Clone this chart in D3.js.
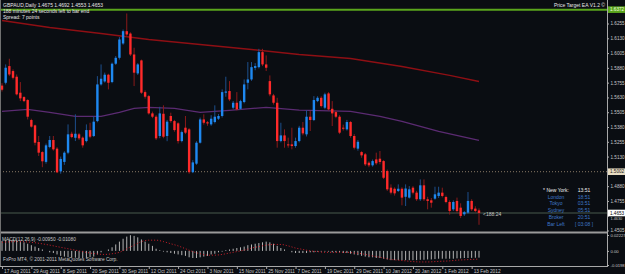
<!DOCTYPE html>
<html><head><meta charset="utf-8">
<script src="https://cdn.jsdelivr.net/npm/d3@7"></script>
<style>body{margin:0;background:#0a0d12;overflow:hidden}svg{display:block}text{font-family:"Liberation Sans",Arial,sans-serif}</style>
</head><body><svg id="c" width="625" height="274"></svg>
<script>
// ---- data ----
const openP=[1.5730,1.5754,1.5895,1.5853,1.5805,1.5670,1.5633,1.5608,1.5439,1.5394,1.5253,1.5168,1.5085,1.5211,1.5270,1.5197,1.5005,1.5085,1.5163,1.5323,1.5289,1.5318,1.5290,1.5261,1.5354,1.5304,1.5430,1.5740,1.5765,1.5822,1.5760,1.5915,1.5965,1.6086,1.6190,1.6170,1.5993,1.5833,1.5943,1.5675,1.5641,1.5495,1.5467,1.5304,1.5492,1.5304,1.5473,1.5430,1.5411,1.5261,1.5374,1.5360,1.4998,1.5070,1.5247,1.5444,1.5420,1.5402,1.5422,1.5450,1.5473,1.5670,1.5684,1.5543,1.5585,1.5534,1.5591,1.5754,1.5782,1.5880,1.5886,1.6013,1.5909,1.5768,1.5647,1.5585,1.5261,1.5309,1.5233,1.5233,1.5219,1.5261,1.5374,1.5318,1.5467,1.5439,1.5599,1.5627,1.5543,1.5664,1.5534,1.5506,1.5467,1.5374,1.5360,1.5422,1.5304,1.5197,1.5168,1.5149,1.5078,1.5056,1.5106,1.5112,1.5092,1.5008,1.4867,1.4858,1.4839,1.4858,1.4790,1.4783,1.4867,1.4825,1.4769,1.4887,1.4769,1.4760,1.4774,1.4797,1.4825,1.4788,1.4746,1.4684,1.4755,1.4698,1.4642,1.4656,1.4755,1.4690,1.4675];
const highP=[1.5750,1.5909,1.5957,1.5867,1.5824,1.5760,1.5640,1.5615,1.5450,1.5400,1.5304,1.5175,1.5240,1.5304,1.5304,1.5210,1.5130,1.5175,1.5402,1.5340,1.5487,1.5330,1.5300,1.5402,1.5416,1.5473,1.5810,1.5909,1.5840,1.5830,1.5925,1.5980,1.6140,1.6204,1.6340,1.6180,1.6050,1.5920,1.5950,1.5690,1.5650,1.5510,1.5480,1.5551,1.5563,1.5440,1.5501,1.5440,1.5420,1.5350,1.5473,1.5370,1.5100,1.5260,1.5460,1.5487,1.5430,1.5480,1.5563,1.5490,1.5698,1.5805,1.5768,1.5600,1.5675,1.5610,1.5782,1.5929,1.5929,1.5920,1.6041,1.6041,1.5985,1.5816,1.5660,1.5627,1.5416,1.5360,1.5290,1.5374,1.5290,1.5390,1.5422,1.5523,1.5515,1.5641,1.5640,1.5640,1.5670,1.5675,1.5599,1.5520,1.5480,1.5400,1.5440,1.5430,1.5320,1.5270,1.5175,1.5160,1.5090,1.5105,1.5163,1.5177,1.5100,1.5020,1.4895,1.4870,1.4895,1.4870,1.4895,1.4880,1.4880,1.4840,1.4937,1.4937,1.4790,1.4780,1.4875,1.4875,1.4867,1.4800,1.4760,1.4760,1.4783,1.4735,1.4670,1.4830,1.4769,1.4710,1.4692];
const lowP=[1.5680,1.5740,1.5810,1.5782,1.5647,1.5599,1.5590,1.5444,1.5375,1.5225,1.5135,1.5040,1.5070,1.5200,1.5180,1.4990,1.4985,1.5060,1.5150,1.5285,1.5261,1.5270,1.5205,1.5250,1.5285,1.5295,1.5420,1.5730,1.5755,1.5698,1.5750,1.5905,1.5950,1.6075,1.6150,1.5980,1.5726,1.5820,1.5660,1.5620,1.5485,1.5455,1.5270,1.5285,1.5285,1.5260,1.5416,1.5340,1.5240,1.5250,1.5320,1.4985,1.4990,1.5060,1.5240,1.5400,1.5390,1.5390,1.5410,1.5440,1.5460,1.5636,1.5599,1.5530,1.5520,1.5525,1.5580,1.5698,1.5770,1.5860,1.5875,1.5895,1.5853,1.5640,1.5570,1.5205,1.5250,1.5205,1.5205,1.5191,1.5205,1.5250,1.5310,1.5300,1.5346,1.5430,1.5590,1.5545,1.5530,1.5520,1.5388,1.5455,1.5320,1.5350,1.5350,1.5290,1.5190,1.5180,1.5120,1.5050,1.5040,1.5045,1.5060,1.5064,1.4940,1.4840,1.4810,1.4800,1.4830,1.4718,1.4712,1.4775,1.4810,1.4755,1.4755,1.4755,1.4684,1.4698,1.4765,1.4780,1.4785,1.4735,1.4640,1.4670,1.4655,1.4610,1.4628,1.4645,1.4670,1.4660,1.4553];
const closeP=[1.5695,1.5881,1.5824,1.5796,1.5656,1.5622,1.5599,1.5467,1.5383,1.5247,1.5163,1.5090,1.5225,1.5270,1.5191,1.4997,1.5110,1.5163,1.5318,1.5295,1.5323,1.5284,1.5225,1.5354,1.5298,1.5425,1.5740,1.5788,1.5822,1.5754,1.5915,1.5965,1.6120,1.6190,1.6162,1.5993,1.5839,1.5909,1.5670,1.5636,1.5495,1.5467,1.5284,1.5495,1.5298,1.5425,1.5430,1.5354,1.5261,1.5337,1.5332,1.4998,1.5081,1.5247,1.5444,1.5416,1.5410,1.5450,1.5467,1.5473,1.5675,1.5680,1.5613,1.5585,1.5529,1.5599,1.5740,1.5782,1.5886,1.5895,1.6013,1.5909,1.5881,1.5656,1.5585,1.5261,1.5309,1.5261,1.5228,1.5219,1.5261,1.5374,1.5326,1.5467,1.5439,1.5608,1.5627,1.5557,1.5656,1.5529,1.5495,1.5467,1.5332,1.5366,1.5422,1.5304,1.5205,1.5255,1.5140,1.5064,1.5056,1.5092,1.5073,1.5084,1.4951,1.4853,1.4825,1.4819,1.4858,1.4783,1.4860,1.4853,1.4825,1.4769,1.4887,1.4769,1.4755,1.4740,1.4811,1.4825,1.4797,1.4746,1.4670,1.4746,1.4670,1.4628,1.4660,1.4755,1.4684,1.4670,1.4653];
// MACD main (histogram) and signal, x 0.001
const macdHist=[14,15,16,16,15,14,12,10,8,6,4,2,0,-2,-3,-5,-7,-8,-9,-9,-9.5,-10,-10,-9.5,-9,-8,-5,-2,0,2,5,9,13,17,20,22,21,19,16,13,10,7,3,1,-1,-2,-3,-4,-5,-6,-7,-9,-10,-10,-9,-8,-7,-5,-4,-2,-1,1,2,3,4,5,6,8,9,10,11,12,13,12,10,7,4,2,0,-2,-3,-3,-3,-3,-2,-2,-1,-1,-1,-1,-2,-2,-2,-3,-3,-4,-5,-6,-7,-8,-9,-9,-10,-10,-11,-12,-13,-13,-13,-13,-13,-13,-13,-13,-12.5,-12.5,-12,-12,-11.5,-11,-11,-11,-11,-11,-10.5,-10.5,-10,-10,-9.8,-9.6,-9.5];
const signalIdx=[0,4,8,12,16,20,24,28,30,32,34,36,38,40,42,44,46,48,50,52,54,56,58,60,62,64,66,68,70,72,74,76,78,80,82,84,86,88,90,92,94,96,98,100,102,104,106,108,110,112,114,116,118,120,122,124,126,128,130];
const signalVal=[12,13,12,9,5,1,-3,-5,-4,-2,3,8,13,15,15,13,10,7,3,-1,-4,-6,-6,-5,-3,-1,1,4,6,8,9,9,7,4,2,0,-1,-2,-2,-2,-2,-3,-4,-6,-8,-10,-12,-13,-14,-15,-15.5,-15.5,-15,-14.5,-14,-13,-12.5,-12,-11.5];
// moving averages sampled at bar indices
const maRedIdx=[0,13,27,40,54,68,81,95,109,122,130];
const maRedVal=[1.6280,1.6221,1.6171,1.6120,1.6078,1.6035,1.5993,1.5959,1.5892,1.5816,1.5765];
const maPurIdx=[0,7,13,20,27,32,36,40,47,54,62,72,81,95,103,109,119,130];
const maPurVal=[1.5512,1.5529,1.5503,1.5470,1.5470,1.5503,1.5537,1.5546,1.5537,1.5503,1.5520,1.5546,1.5523,1.5512,1.5470,1.5427,1.5343,1.5267];
const priceTicks=[1.6255,1.6130,1.6005,1.5880,1.5755,1.5630,1.5505,1.5380,1.5255,1.5130,1.5005,1.4880,1.4755,1.4630,1.4505];
const dateIdx=[0,8,16,24,32,40,48,56,64,72,80,88,96,104,112,120,128];
const dateLabels=["17 Aug 2011","29 Aug 2011","8 Sep 2011","20 Sep 2011","30 Sep 2011","12 Oct 2011","24 Oct 2011","3 Nov 2011","15 Nov 2011","25 Nov 2011","7 Dec 2011","19 Dec 2011","29 Dec 2011","10 Jan 2012","20 Jan 2012","1 Feb 2012","13 Feb 2012"];
const targetPrice=1.6372, pivotPrice=1.5002, lastPrice=1.4653;
const macdTicks=[0.02227,0,-0.0198];
const macdTickLabels=["0.02227","0.00","-0.0198"];
const sessions=[["* New York:","13:51"],["London","18:51"],["Tokyo","03:51"],["Sydney","05:51"],["Broker","20:51"],["Bar Left","[ 03:08 ]"]];

// ---- drawing ----
const svg=d3.select('#c');
svg.append('rect').attr('width',625).attr('height',274).attr('fill','#0a0d12');
const x=d3.scaleLinear().domain([0,130]).range([2,479]);
const y=d3.scaleLinear().domain([1.4505,1.6255]).range([230.5,23.5]);
const ym=d3.scaleLinear().domain([-0.0198,0.02227]).range([265,235]);
const axisX=607;
const FS='4.6px';

// horizontal lines
svg.append('line').attr('x1',0).attr('x2',axisX).attr('y1',y(targetPrice)).attr('y2',y(targetPrice)).attr('stroke','#5aa51c').attr('stroke-width',2);
svg.append('line').attr('x1',0).attr('x2',axisX).attr('y1',y(pivotPrice)).attr('y2',y(pivotPrice)).attr('stroke','#8a7a66').attr('stroke-width',1).attr('stroke-dasharray','1,2');
svg.append('line').attr('x1',0).attr('x2',axisX).attr('y1',y(lastPrice)).attr('y2',y(lastPrice)).attr('stroke','#34403a').attr('stroke-width',1.5);

// moving averages
const maLine=(idx,val)=>d3.line().x((d,i)=>x(idx[i])).y(d=>y(d))(val);
svg.append('path').attr('d',maLine(maRedIdx,maRedVal)).attr('fill','none').attr('stroke','#8e0f14').attr('stroke-width',1.4);
svg.append('path').attr('d',maLine(maPurIdx,maPurVal)).attr('fill','none').attr('stroke','#5b2b72').attr('stroke-width',1.3);

// candles
const idx=d3.range(openP.length);
const g=svg.append('g');
g.selectAll('line.w').data(idx).join('line')
 .attr('x1',i=>x(i)).attr('x2',i=>x(i)).attr('y1',i=>y(highP[i])).attr('y2',i=>y(lowP[i]))
 .attr('stroke',i=>closeP[i]>=openP[i]?'#1d4f8c':'#8a1a1a').attr('stroke-width',1);
g.selectAll('rect.b').data(idx).join('rect')
 .attr('x',i=>x(i)-1.2).attr('width',2.4)
 .attr('y',i=>Math.min(y(openP[i]),y(closeP[i])))
 .attr('height',i=>Math.max(1,Math.abs(y(openP[i])-y(closeP[i]))))
 .attr('fill',i=>closeP[i]>=openP[i]?'#1e88f0':'#ff2a2a');

// panel separators / borders
svg.append('rect').attr('x',0).attr('y',231.5).attr('width',axisX).attr('height',2).attr('fill','#9a9a9a');
svg.append('line').attr('x1',0.5).attr('x2',0.5).attr('y1',0).attr('y2',266).attr('stroke','#707070');

// MACD panel
svg.append('g').selectAll('line').data(idx).join('line')
 .attr('x1',i=>x(i)).attr('x2',i=>x(i)).attr('y1',ym(0)).attr('y2',i=>ym(macdHist[i]/1000))
 .attr('stroke','#b4b4b4').attr('stroke-width',1);
svg.append('path').attr('d',d3.line().x((d,i)=>x(signalIdx[i])).y(d=>ym(d/1000)).curve(d3.curveMonotoneX)(signalVal))
 .attr('fill','none').attr('stroke','#d0202a').attr('stroke-width',1).attr('stroke-dasharray','1,2');

// right price axis (label hidden by last-price box is skipped)
const ax=svg.append('g').attr('transform',`translate(${axisX},0)`)
 .call(d3.axisRight(y).tickValues(priceTicks).tickFormat(d3.format('.4f')).tickSize(2).tickPadding(1.5));
ax.select('.domain').remove();
ax.selectAll('line').attr('stroke','#b0b0b0');
ax.selectAll('text').attr('fill','#c8c8c8').style('font-size',FS);
ax.selectAll('.tick').filter(d=>Math.abs(y(d)-y(lastPrice))<4).select('text').attr('dy','0.9em').style('font-size','3.8px');
svg.append('line').attr('x1',axisX+0.5).attr('x2',axisX+0.5).attr('y1',0).attr('y2',266).attr('stroke','#a8a8a8');

// MACD axis
const axm=svg.append('g').attr('transform',`translate(${axisX},0)`)
 .call(d3.axisRight(ym).tickValues(macdTicks).tickFormat((d,i)=>macdTickLabels[i]).tickSize(2).tickPadding(1.5));
axm.select('.domain').remove();
axm.selectAll('line').attr('stroke','#b0b0b0');
axm.selectAll('text').attr('fill','#c8c8c8').style('font-size','4.2px');

// price label boxes
function box(p,bg,fg,txt){
  const yy=y(p);
  svg.append('rect').attr('x',axisX+1).attr('y',yy-3.3).attr('width',18).attr('height',6.6).attr('fill',bg);
  svg.append('text').attr('x',axisX+3).attr('y',yy+1.7).attr('fill',fg).style('font-size',FS).text(txt);
}
box(targetPrice,'#5aa51c','#f0ffe0',d3.format('.4f')(targetPrice));
box(pivotPrice,'#e8dcc2','#202020',d3.format('.4f')(pivotPrice));
box(lastPrice,'#ffffff','#000000',d3.format('.4f')(lastPrice));

// bottom date axis
const bx=svg.append('g').attr('transform','translate(0,266)')
 .call(d3.axisBottom(x).tickValues(dateIdx).tickFormat((d,i)=>dateLabels[i]).tickSize(3).tickPadding(1));
bx.select('.domain').remove();
bx.selectAll('line').attr('stroke','#a8a8a8');
bx.selectAll('text').attr('fill','#c8c8c8').attr('text-anchor','start').attr('dx','1.5').style('font-size','4.8px');
svg.append('line').attr('x1',0).attr('x2',axisX+1).attr('y1',266.5).attr('y2',266.5).attr('stroke','#a8a8a8');

// texts
const T=(t,xx,yy,c,s,a)=>svg.append('text').attr('x',xx).attr('y',yy).attr('fill',c).style('font-size',(s||5)+'px').attr('text-anchor',a||'start').text(t);
T('GBPAUD,Daily  1.4675 1.4692 1.4553 1.4653',3,7,'#e6e6e6');
T('188 minutes 24 seconds left to bar end',3,12.5,'#e6e6e6');
T('Spread: 7 points',3,18.5,'#e6e6e6');
T('Price Target EA V1.2 \u00a9',605,7,'#e6e6e6',5,'end');
T('<188:24',483,216,'#c8c8c8');
T('MACD(12,26,9) -0.00950 -0.01080',2,240.5,'#c8c8c8',4.8);
T('FxPro MT4, \u00a9 2001-2011 MetaQuotes Software Corp.',3,261,'#c8c8c8',4.8);
sessions.forEach((s,k)=>{
  const yy=192+k*6.7; const c=k===0?'#f0f0f0':'#3f78c8';
  T(s[0],556,yy,c,5,'middle'); T(s[1],584,yy,c,5,'middle');
});
</script></body></html>
